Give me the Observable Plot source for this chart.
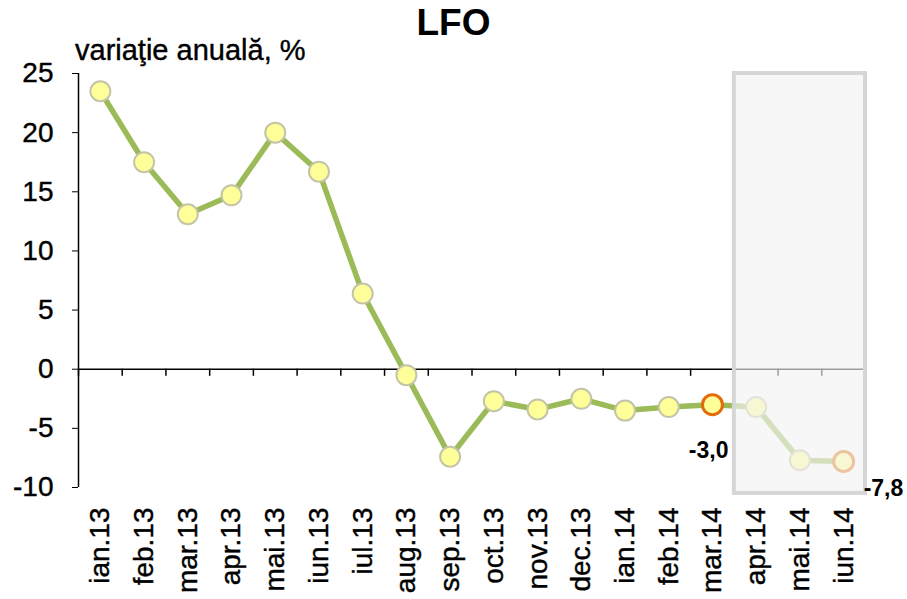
<!DOCTYPE html>
<html>
<head>
<meta charset="utf-8">
<script src="https://cdn.jsdelivr.net/npm/d3@7"></script>
<script src="https://cdn.jsdelivr.net/npm/@observablehq/plot@0.6"></script>
<style>
  body { margin: 0; background: #fff; font-family: "Liberation Sans", Arial, sans-serif; }
  #wrap { position: relative; width: 907px; height: 599px; }
  #title { position: absolute; left: 0; width: 907px; top: 4px; text-align: center; font-weight: bold; font-size: 37px; line-height: 37px; }
  #sub { position: absolute; left: 75px; top: 36px; font-size: 29px; line-height: 28px; -webkit-text-stroke: 0.4px #000; }
  #chart svg g[aria-label$="tick label"] text { stroke: #000; stroke-width: 0.4px; }
</style>
</head>
<body>
<div id="wrap">
  <div id="chart"></div>
  <div id="title">LFO</div>
  <div id="sub">variaţie anuală, %</div>
</div>
<script>
const months = ["ian.13","feb.13","mar.13","apr.13","mai.13","iun.13","iul.13","aug.13","sep.13","oct.13","nov.13","dec.13","ian.14","feb.14","mar.14","apr.14","mai.14","iun.14"];
const values = [23.5, 17.5, 13.1, 14.7, 20.0, 16.7, 6.4, -0.5, -7.4, -2.7, -3.4, -2.5, -3.5, -3.2, -3.0, -3.2, -7.7, -7.8];
const highlighted = ["mar.14", "iun.14"];
const forecastStart = "apr.14";
const yTicks = [-10, -5, 0, 5, 10, 15, 20, 25];
const annotations = [{month: "mar.14", text: "-3,0"}, {month: "iun.14", text: "-7,8"}];

const data = months.map((m, i) => ({i, m, v: values[i], hi: highlighted.includes(m)}));
const fIdx = months.indexOf(forecastStart);
const n = months.length;
const boundaries = d3.range(n + 1).map(k => k - 0.5);
const ann = annotations.map(a => ({i: months.indexOf(a.month), v: values[months.indexOf(a.month)], text: a.text}));

const chart = Plot.plot({
  width: 907,
  height: 599,
  marginLeft: 78,
  marginRight: 42,
  marginTop: 73,
  marginBottom: 112,
  style: {fontFamily: "Liberation Sans, Arial, sans-serif", color: "#000", background: "#fff"},
  x: {type: "linear", domain: [-0.5, n - 0.5]},
  y: {domain: [-10, 25]},
  marks: [
    Plot.axisY({ticks: yTicks, tickSize: 6, tickPadding: 19, fontSize: 28, tickFormat: d => d, label: null}),
    Plot.axisX({ticks: d3.range(n), tickFormat: i => months[i], tickRotate: -90, tickSize: 0, tickPadding: 20, fontSize: 28, label: null}),
    Plot.ruleX([-0.5], {y1: -10, y2: 25, stroke: "#000", strokeWidth: 1.5}),
    Plot.ruleY([0], {x1: -0.5, x2: n - 0.5, stroke: "#000", strokeWidth: 1.5}),
    Plot.ruleX(boundaries, {x: d => d, y1: 0, y2: -0.6, stroke: "#000", strokeWidth: 1.5}),
    Plot.line(data, {x: "i", y: "v", stroke: "#9bbb59", strokeWidth: 5.5}),
    Plot.dot(data, {x: "i", y: "v", r: 10, fill: "#ffff99", stroke: d => d.hi ? "#e36c09" : "#c4c4a8", strokeWidth: d => d.hi ? 3 : 2}),
    Plot.rect([{x1: fIdx - 0.5, x2: n - 0.5, y1: -10.5, y2: 25}], {x1: "x1", x2: "x2", y1: "y1", y2: "y2", fill: "#f2f2f2", fillOpacity: 0.65, stroke: "#d6d6d6", strokeWidth: 4}),
    Plot.text(ann.slice(0, 1), {x: "i", y: "v", text: "text", dx: 16, dy: 46, textAnchor: "end", fontWeight: "bold", fontSize: 23}),
    Plot.text(ann.slice(1), {x: "i", y: "v", text: "text", dx: 20, dy: 27, textAnchor: "start", fontWeight: "bold", fontSize: 23})
  ]
});
document.getElementById("chart").appendChild(chart);
</script>
</body>
</html>
